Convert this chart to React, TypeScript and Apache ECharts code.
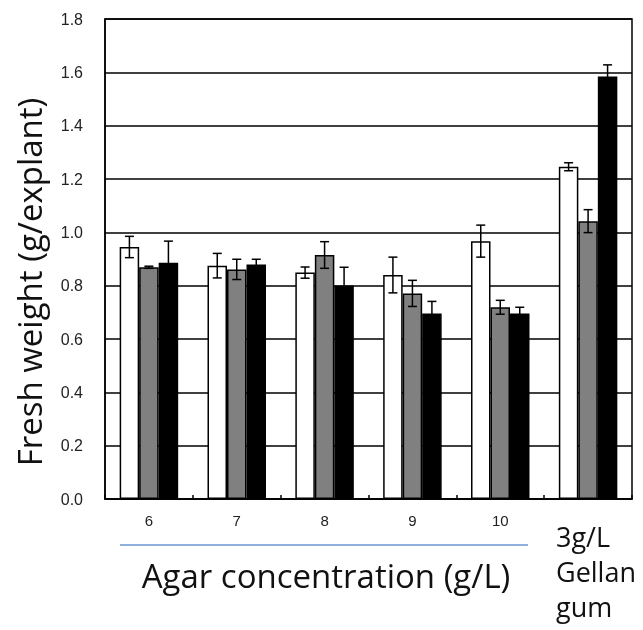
import React, { useEffect, useRef } from "react";
import * as echarts from "echarts";

const categories = ["6", "7", "8", "9", "10", "3g/L Gellan gum"];
const yTicks = [0, 0.2, 0.4, 0.6, 0.8, 1.0, 1.2, 1.4, 1.6, 1.8];

const whiteVals = [0.945, 0.875, 0.849, 0.84, 0.967, 1.246];
const whiteErr = [0.04, 0.046, 0.021, 0.067, 0.06, 0.015];
const grayVals = [0.869, 0.861, 0.915, 0.771, 0.719, 1.042];
const grayErr = [0.004, 0.038, 0.05, 0.049, 0.026, 0.043];
const blackVals = [0.886, 0.879, 0.801, 0.696, 0.696, 1.584];
const blackErr = [0.081, 0.02, 0.068, 0.045, 0.023, 0.044];

const xTitle = "Agar concentration (g/L)";
const yTitle = "Fresh weight (g/explant)";
const gellanLines = ["3g/L", "Gellan", "gum"];

const BAR_FRAC = 0.222;

export default function App() {
  const ref = useRef<HTMLDivElement>(null);
  useEffect(() => {
    if (!ref.current) return;
    const chart = echarts.init(ref.current, null, { renderer: "svg" });
    const errData: number[][] = [];
    [
      [whiteVals, whiteErr],
      [grayVals, grayErr],
      [blackVals, blackErr],
    ].forEach(([vals, errs], si) => {
      vals.forEach((v, ci) => errData.push([ci, v, errs[ci], si]));
    });
    const barCommon = {
      type: "bar" as const,
      barWidth: BAR_FRAC * 100 + "%",
      barGap: "0%",
      z: 2,
    };
    chart.setOption({
      animation: false,
      grid: {
        left: 105,
        top: 19,
        right: 11,
        bottom: 131,
        show: true,
        borderColor: "#000",
        borderWidth: 1.5,
        backgroundColor: "transparent",
      },
      xAxis: {
        type: "category",
        data: categories,
        axisLine: { lineStyle: { color: "#000", width: 1.5 } },
        axisTick: { show: true, inside: true, length: 4, lineStyle: { color: "#000", width: 1.5 } },
        axisLabel: {
          color: "#222",
          fontFamily: "Liberation Sans",
          fontSize: 15,
          margin: 14,
          formatter: (v: string, i: number) => (i === categories.length - 1 ? "" : v),
        },
      },
      yAxis: {
        type: "value",
        min: yTicks[0],
        max: yTicks[yTicks.length - 1],
        interval: 0.2,
        axisLine: { show: true, lineStyle: { color: "#000", width: 1.5 } },
        axisTick: { show: false },
        splitLine: { lineStyle: { color: "#000", width: 1.5 } },
        axisLabel: {
          color: "#222",
          fontFamily: "Liberation Sans",
          fontSize: 16,
          margin: 22,
          formatter: (v: number) => v.toFixed(1),
        },
      },
      series: [
        { ...barCommon, name: "white", data: whiteVals, itemStyle: { color: "#fff", borderColor: "#000", borderWidth: 1.5 } },
        { ...barCommon, name: "gray", data: grayVals, itemStyle: { color: "#808080", borderColor: "#000", borderWidth: 1.5 } },
        { ...barCommon, name: "black", data: blackVals, itemStyle: { color: "#000", borderColor: "#000", borderWidth: 1.5 } },
        {
          type: "custom",
          z: 5,
          data: errData,
          encode: { x: 0, y: 1 },
          renderItem: (params: any, api: any) => {
            const ci = api.value(0);
            const v = api.value(1);
            const e = api.value(2);
            const si = api.value(3);
            const band = api.size([1, 0])[0];
            const bw = band * BAR_FRAC;
            const c = api.coord([ci, v]);
            const x = c[0] + (si - 1) * bw;
            const yt = api.coord([ci, v + e])[1];
            const yb = api.coord([ci, v - e])[1];
            const cap = 4.5;
            const st = { stroke: "#000", lineWidth: 1.5 };
            return {
              type: "group",
              children: [
                { type: "line", shape: { x1: x, y1: yt, x2: x, y2: yb }, style: st },
                { type: "line", shape: { x1: x - cap, y1: yt, x2: x + cap, y2: yt }, style: st },
                { type: "line", shape: { x1: x - cap, y1: yb, x2: x + cap, y2: yb }, style: st },
              ],
            };
          },
        },
      ],
      graphic: [
        {
          type: "text",
          x: 29,
          y: 282,
          rotation: Math.PI / 2,
          style: {
            text: yTitle,
            fontFamily: "Open Sans",
            fontSize: 33,
            fill: "#111",
            align: "center",
            verticalAlign: "middle",
          },
        },
        {
          type: "line",
          shape: { x1: 120, y1: 545, x2: 528, y2: 545 },
          style: { stroke: "#6a96d2", lineWidth: 1.5 },
        },
        {
          type: "text",
          x: 326,
          y: 575,
          style: {
            text: xTitle,
            fontFamily: "Open Sans",
            fontSize: 33,
            fill: "#111",
            align: "center",
            verticalAlign: "middle",
          },
        },
        ...gellanLines.map((t, i) => ({
          type: "text",
          x: 556,
          y: 536 + i * 35,
          style: {
            text: t,
            fontFamily: "Open Sans",
            fontSize: 27,
            fill: "#111",
            align: "left",
            verticalAlign: "middle",
          },
        })),
      ],
    });
    return () => chart.dispose();
  }, []);
  return <div ref={ref} style={{ position: "fixed", left: 0, top: 0, width: 643, height: 630 }} />;
}
